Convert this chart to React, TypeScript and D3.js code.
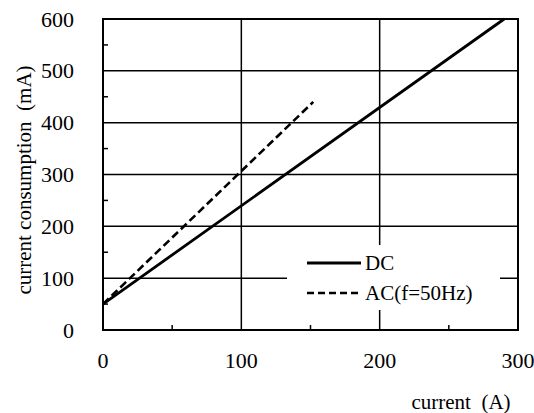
import React from "react";
import * as d3 from "d3";

const xTicks = [0, 100, 200, 300];
const yTicks = [0, 100, 200, 300, 400, 500, 600];
const xMinor = [50, 150, 250];
const yMinor = [50, 150, 250, 350, 450, 550];
const dcX = [0, 290];
const dcY = [50, 600];
const acX = [0, 152];
const acY = [50, 440];
const seriesNames = ["DC", "AC(f=50Hz)"];

export default function App() {
  const W = 534, H = 413;
  const m = { left: 103, right: 16, top: 19, bottom: 83 };
  const x = d3.scaleLinear().domain([0, 300]).range([m.left, W - m.right]);
  const y = d3.scaleLinear().domain([0, 600]).range([H - m.bottom, m.top]);
  const line = d3.line<[number, number]>().x((d) => x(d[0])).y((d) => y(d[1]));
  const dc = dcX.map((v, i) => [v, dcY[i]] as [number, number]);
  const ac = acX.map((v, i) => [v, acY[i]] as [number, number]);
  const font = "Liberation Serif, Times New Roman, serif";
  const legX = 287, legY = 245, legW = 213, legH = 65;
  return (
    <svg width={W} height={H} style={{ position: "absolute", left: 0, top: 0, background: "#fff" }}>
      <g stroke="#000" strokeWidth={1.5}>
        {yTicks.slice(1, -1).map((t) => (
          <line key={"gy" + t} x1={x(0)} x2={x(300)} y1={y(t)} y2={y(t)} />
        ))}
        {xTicks.slice(1, -1).map((t) => (
          <line key={"gx" + t} x1={x(t)} x2={x(t)} y1={y(0)} y2={y(600)} />
        ))}
        {yMinor.map((t) => (
          <line key={"my" + t} x1={x(0)} x2={x(0) + 5} y1={y(t)} y2={y(t)} />
        ))}
        {xMinor.map((t) => (
          <line key={"mx" + t} x1={x(t)} x2={x(t)} y1={y(0)} y2={y(0) - 5} />
        ))}
      </g>
      <rect x={legX} y={legY} width={legW} height={legH} fill="#fff" />
      <path d={line(dc) || ""} fill="none" stroke="#000" strokeWidth={2.8} />
      <path d={line(ac) || ""} fill="none" stroke="#000" strokeWidth={2.6} strokeDasharray="8,4" />
      <rect x={x(0)} y={y(600)} width={x(300) - x(0)} height={y(0) - y(600)} fill="none" stroke="#000" strokeWidth={2} />
      <g fontFamily={font} fill="#000">
        <g fontSize={22}>
          {yTicks.map((t) => (
            <text key={"ty" + t} x={74} y={y(t)} textAnchor="end" dominantBaseline="central">{t}</text>
          ))}
          {xTicks.map((t) => (
            <text key={"tx" + t} x={x(t)} y={360} textAnchor="middle" dominantBaseline="central">{t}</text>
          ))}
        </g>
        <g fontSize={21}>
          <text x={461} y={402} textAnchor="middle" dominantBaseline="central" xmlSpace="preserve">current  (A)</text>
          <text transform={`translate(24,${180}) rotate(-90)`} textAnchor="middle" dominantBaseline="central" xmlSpace="preserve">current consumption  (mA)</text>
          <line x1={307} x2={361} y1={263} y2={263} stroke="#000" strokeWidth={2.8} />
          <line x1={307} x2={361} y1={293} y2={293} stroke="#000" strokeWidth={2.4} strokeDasharray="7,4" />
          <text x={365} y={263} dominantBaseline="central">{seriesNames[0]}</text>
          <text x={365} y={293} dominantBaseline="central">{seriesNames[1]}</text>
        </g>
      </g>
    </svg>
  );
}
